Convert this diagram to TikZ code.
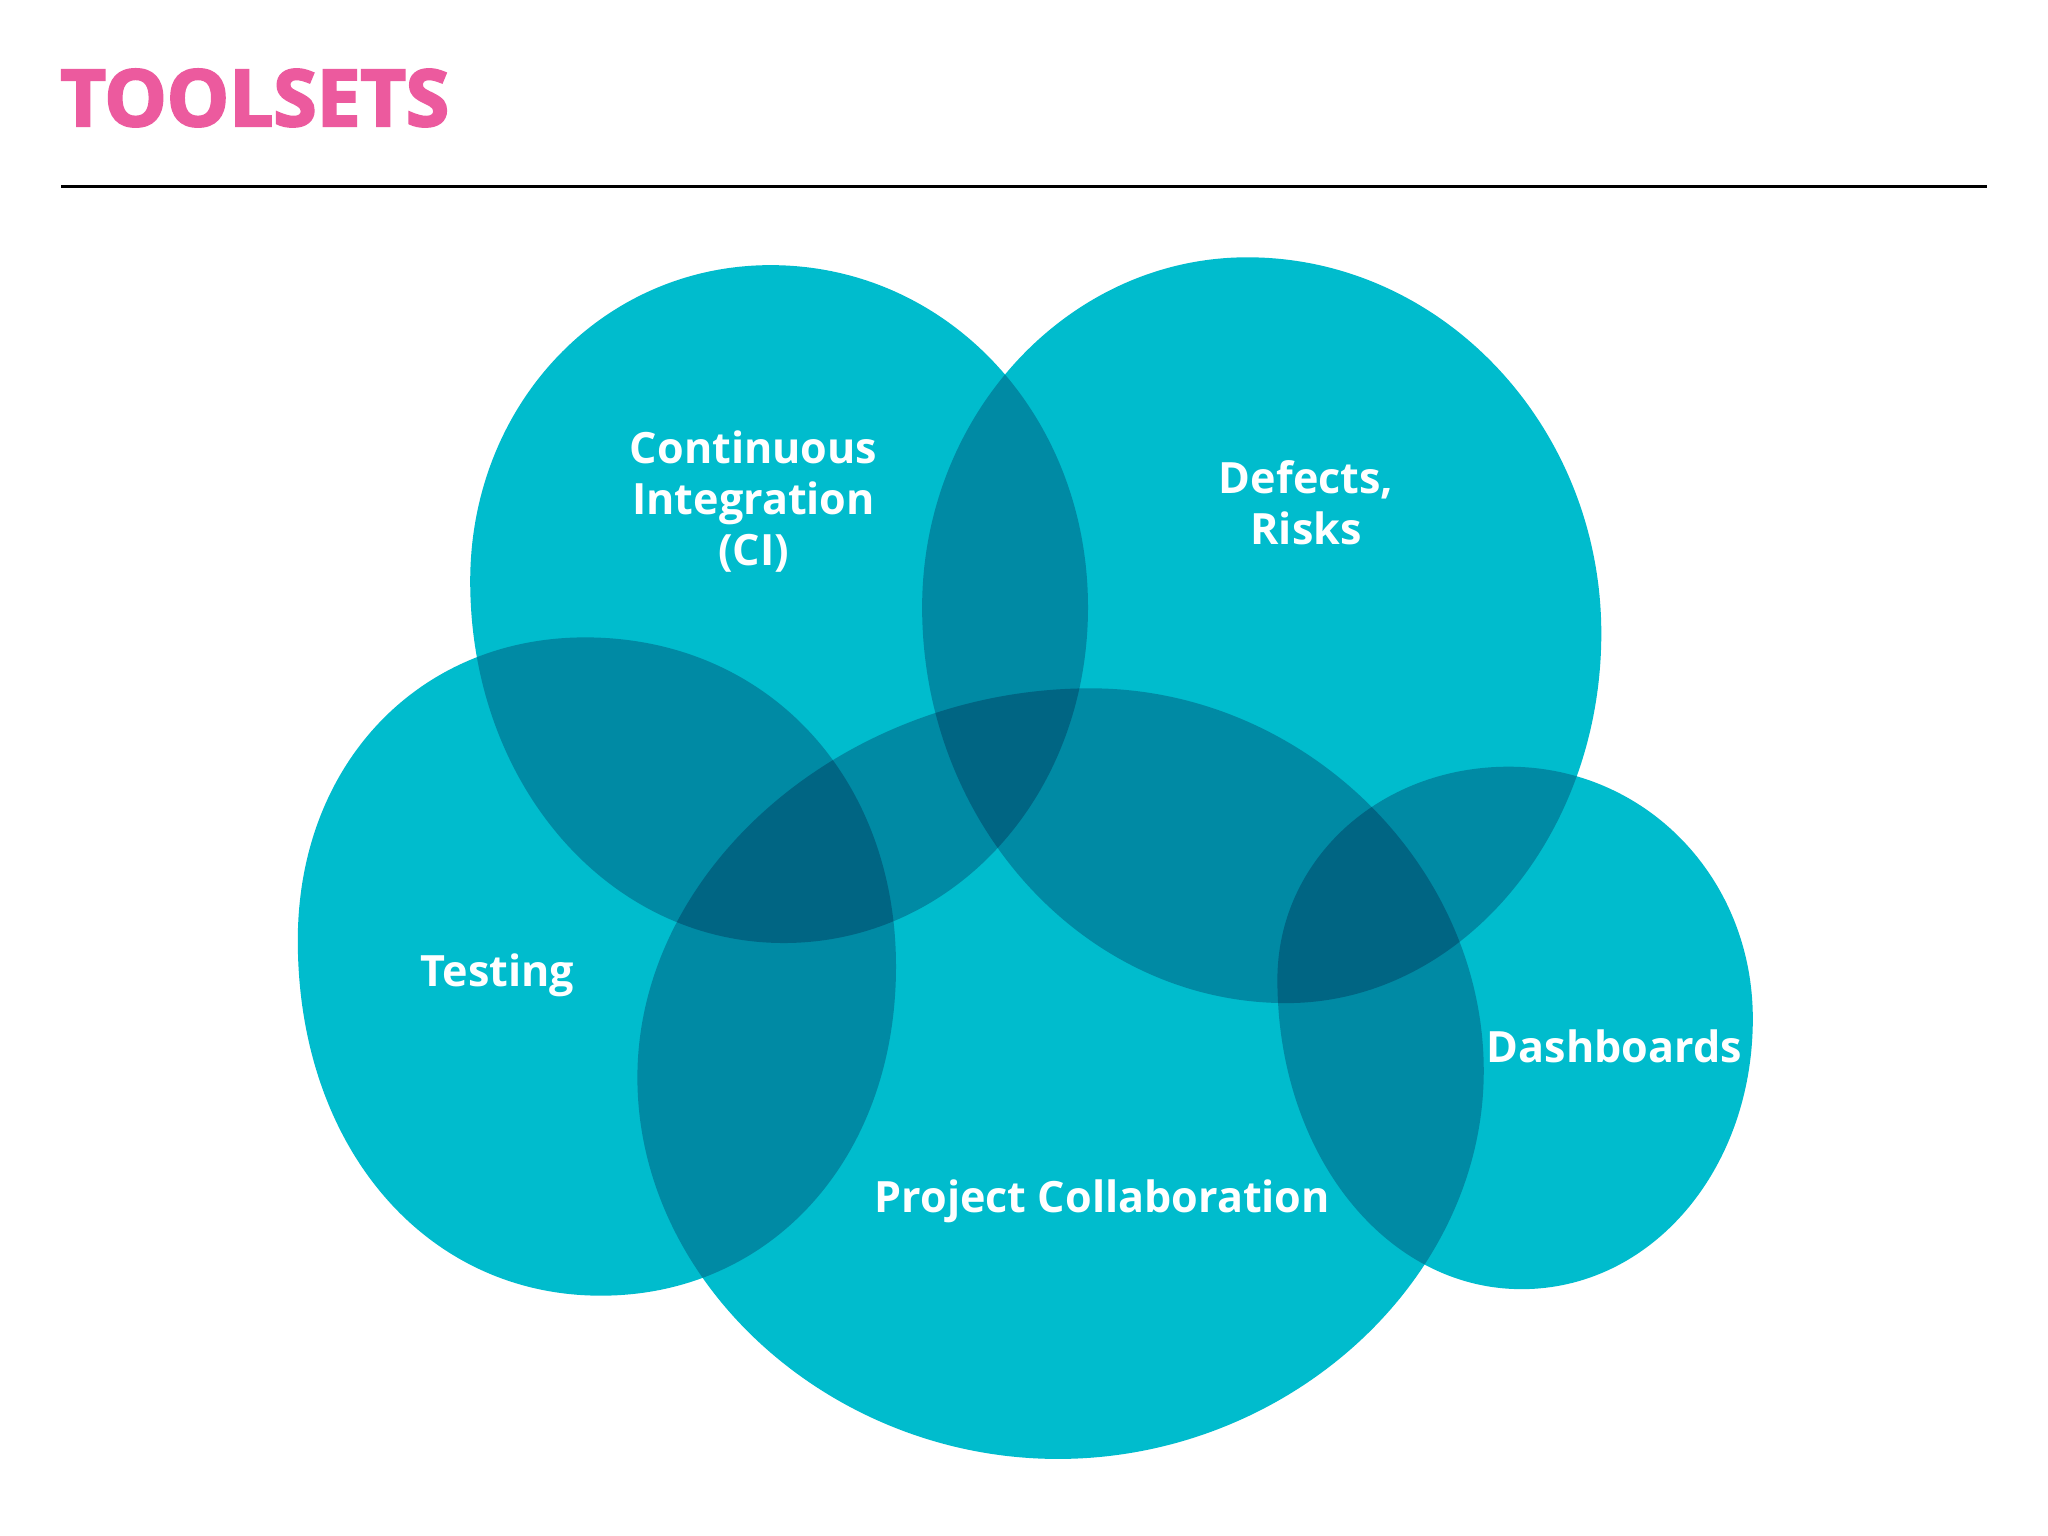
\documentclass[tikz,border=0pt]{standalone}
\usepackage{fontspec}
\setmainfont{Open Sans}
\newfontfamily\titlefont{Open Sans}[FakeBold=3]
\definecolor{blob}{RGB}{0,188,205}
\definecolor{titlepink}{RGB}{236,90,158}
\tikzset{
  blobfill/.style={fill=blob, draw=none},
  lbl/.style={text=white, font=\bfseries\fontsize{16.5}{19.5}\selectfont, align=center, inner sep=0pt}
}
% top x,y ; right x,y ; bottom x,y ; left x,y ; handle factor
\newcommand{\myblob}[9]{%
\fill[blobfill] (#1,#2) .. controls ({#1+#9*(#3-#1)},#2) and (#3,{#4-#9*(#4-#2)}) .. (#3,#4)
  .. controls (#3,{#4+#9*(#6-#4)}) and ({#5+#9*(#3-#5)},#6) .. (#5,#6)
  .. controls ({#5-#9*(#5-#7)},#6) and (#7,{#8+#9*(#6-#8)}) .. (#7,#8)
  .. controls (#7,{#8-#9*(#8-#2)}) and ({#1-#9*(#1-#7)},#2) .. cycle;}
\begin{document}
\begin{tikzpicture}[x=0.5pt,y=-0.5pt]
\useasboundingbox (0,0) rectangle (1568,1176);
\fill[white] (0,0) rectangle (1568,1176);
\node[anchor=west, text=titlepink, font=\titlefont\bfseries\fontsize{30}{36}\selectfont, inner sep=0pt] (title) at (46,75) {TOOLSETS};
\coordinate (ruleL) at (47,143);
\coordinate (ruleR) at (1521,143);
\draw[line width=1.2pt] (ruleL) -- (ruleR);
\begin{scope}[blend group=multiply]
% CI
\myblob{590}{203}{833}{465}{600}{722}{360}{445}{0.56}
% Defects
\myblob{955}{197}{1226}{485}{985}{768}{706}{465}{0.55}
% Testing
\myblob{448}{488}{686}{740}{460}{992}{228}{720}{0.58}
% Project Collaboration
\myblob{835}{527}{1136}{820}{810}{1117}{488}{825}{0.54}
% Dashboards
\myblob{1155}{587}{1342}{780}{1165}{987}{978}{750}{0.56}
\end{scope}
\node[lbl] (ci) at (577,384) {Continuous\\Integration\\(CI)};
\node[lbl] (defects) at (1000,385) {Defects,\\Risks};
\node[lbl] (testing) at (381,747) {Testing};
\node[lbl] (dash) at (1236,801) {Dashboards};
\node[lbl] (proj) at (844,920) {Project Collaboration};
\end{tikzpicture}
\end{document}
